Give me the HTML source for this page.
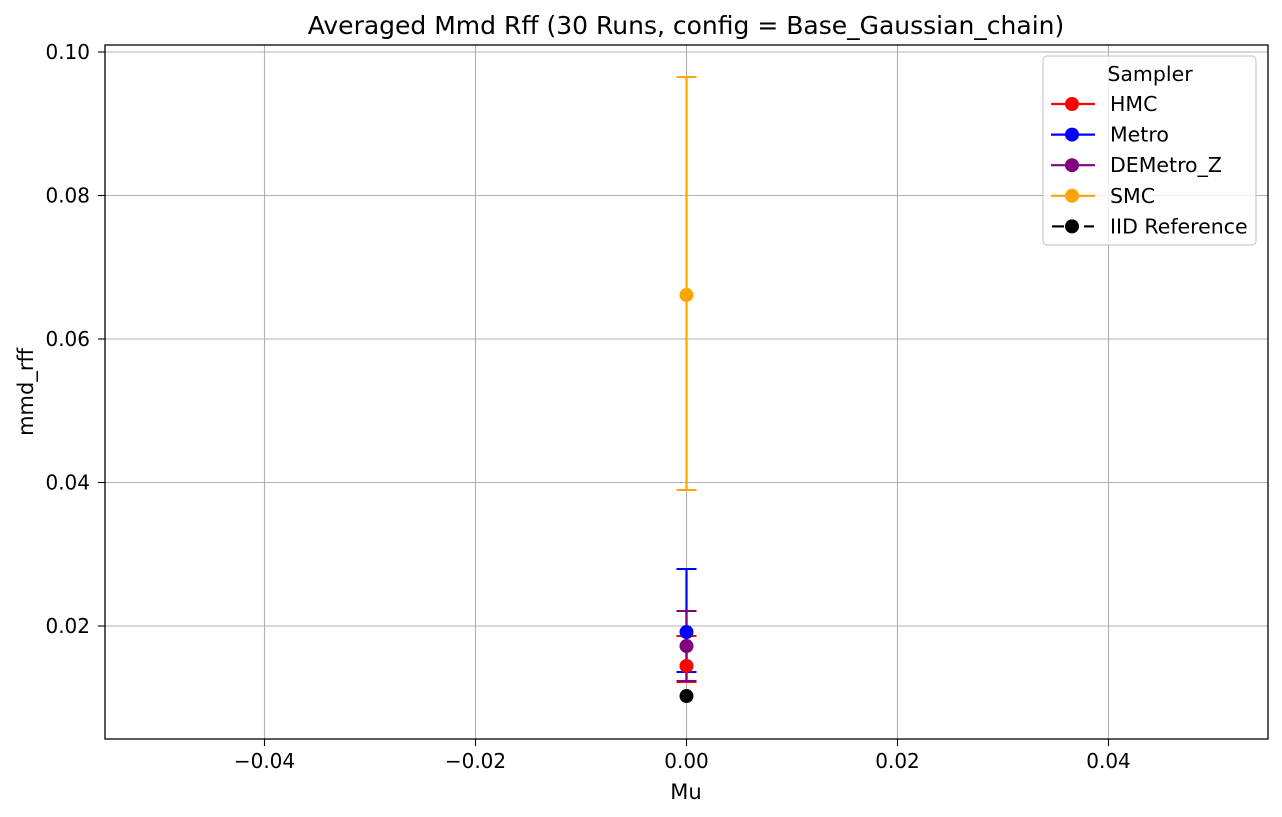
<!DOCTYPE html>
<html><head><meta charset="utf-8"><style>
html,body{margin:0;padding:0;background:#fff;width:1282px;height:817px;overflow:hidden}
svg text{font-family:"DejaVu Sans","Liberation Sans",sans-serif;fill:#000}
</style></head><body>
<svg id="chart" width="1282" height="817" xmlns="http://www.w3.org/2000/svg">
<text x="686" y="34" font-size="25" text-anchor="middle">Averaged Mmd Rff (30 Runs, config = Base_Gaussian_chain)</text>
<g id="grid"></g>
<g id="ticks"></g>
<g id="marks"></g>
<rect x="105" y="45" width="1163" height="694" fill="none" stroke="#000" stroke-width="1.3"/>
<text x="686" y="799" font-size="21" text-anchor="middle">Mu</text>
<text transform="translate(33,392) rotate(-90)" font-size="21" text-anchor="middle">mmd_rff</text>
<g id="legend"></g>
</svg>
<script>
const names=["HMC","Metro","DEMetro_Z","SMC"];
const colors=["red","blue","purple","orange"];
const xs=[0,0,0,0];
const means=[0.01443,0.01916,0.01721,0.06613];
const lower=[0.01220,0.01359,0.01233,0.03895];
const upper=[0.01861,0.02794,0.02209,0.09652];
const iidX=[0];
const iidVal=[0.01024];
const xTicks=[-0.04,-0.02,0.00,0.02,0.04];
const xTickLabels=["\u22120.04","\u22120.02","0.00","0.02","0.04"];
const yTicks=[0.02,0.04,0.06,0.08,0.10];
const yTickLabels=["0.02","0.04","0.06","0.08","0.10"];

const X=v=>686.5+v*(211/0.02);
const Y=v=>769.5-v*7175;
const NS="http://www.w3.org/2000/svg";
function mk(p,t,a){const e=document.createElementNS(NS,t);for(const k in a)e.setAttribute(k,a[k]);p.appendChild(e);return e;}
const grid=document.getElementById('grid'),ticks=document.getElementById('ticks'),marks=document.getElementById('marks'),leg=document.getElementById('legend');
xTicks.forEach((t,i)=>{const x=X(t);
 const g=mk(grid,'line',{x1:x,x2:x,y1:45,y2:739,stroke:'#b0b0b0','stroke-width':1.1});
 
 
 const tk=mk(ticks,'line',{x1:x,x2:x,y1:739,y2:746,stroke:'#000','stroke-width':1.1});
 
 
 const tx=mk(ticks,'text',{x:x,y:768,'font-size':20,'text-anchor':'middle'});tx.textContent=xTickLabels[i];
 
 
});
yTicks.forEach((t,i)=>{const y=Y(t);
 const g=mk(grid,'line',{x1:105,x2:1268,y1:y,y2:y,stroke:'#b0b0b0','stroke-width':1.1});
 
 
 const tk=mk(ticks,'line',{x1:98,x2:105,y1:y,y2:y,stroke:'#000','stroke-width':1.1});
 
 
 const tx=mk(ticks,'text',{x:90,y:y+7,'font-size':20,'text-anchor':'end'});tx.textContent=yTickLabels[i];
 
 
});
names.forEach((n,i)=>{const x=X(xs[i]),c=colors[i];
 const eb=mk(marks,'line',{x1:x,x2:x,y1:Y(lower[i]),y2:Y(upper[i]),stroke:c,'stroke-width':2.2});
 
 
 [lower[i],upper[i]].forEach(v=>{const cp=mk(marks,'line',{x1:x-10,x2:x+10,y1:Y(v),y2:Y(v),stroke:c,'stroke-width':2});
  
  });
});
names.forEach((n,i)=>{
 const p=mk(marks,'circle',{cx:X(xs[i]),cy:Y(means[i]),r:7,fill:colors[i]});
 
 
});
iidVal.forEach((v,i)=>{const p=mk(marks,'circle',{cx:X(iidX[i]),cy:Y(v),r:7,fill:'#000'});
 
 });
const box=mk(leg,'rect',{x:1043,y:56,width:213,height:189,rx:4,fill:'#fff','fill-opacity':0.8,stroke:'#ccc','stroke-width':1.2});


const lt=mk(leg,'text',{x:1150,y:81,'font-size':20.5,'text-anchor':'middle'});lt.textContent='Sampler';


const lnames=names.concat(['IID Reference']),lcols=colors.concat(['#000']);
lnames.forEach((n,i)=>{const y=104+i*30.6;
 const g=mk(leg,'g',{});
 
 
 if(i<4) mk(g,'line',{x1:1051,x2:1095,y1:y,y2:y,stroke:lcols[i],'stroke-width':2.2});
 else {mk(g,'line',{x1:1052,x2:1064,y1:y,y2:y,stroke:'#000','stroke-width':2.2});mk(g,'line',{x1:1084,x2:1094,y1:y,y2:y,stroke:'#000','stroke-width':2.2});}
 mk(g,'circle',{cx:1072,cy:y,r:7,fill:lcols[i]});
 const t=mk(g,'text',{x:1110,y:y+7,'font-size':20.5});t.textContent=n;
});
</script>
</body></html>
